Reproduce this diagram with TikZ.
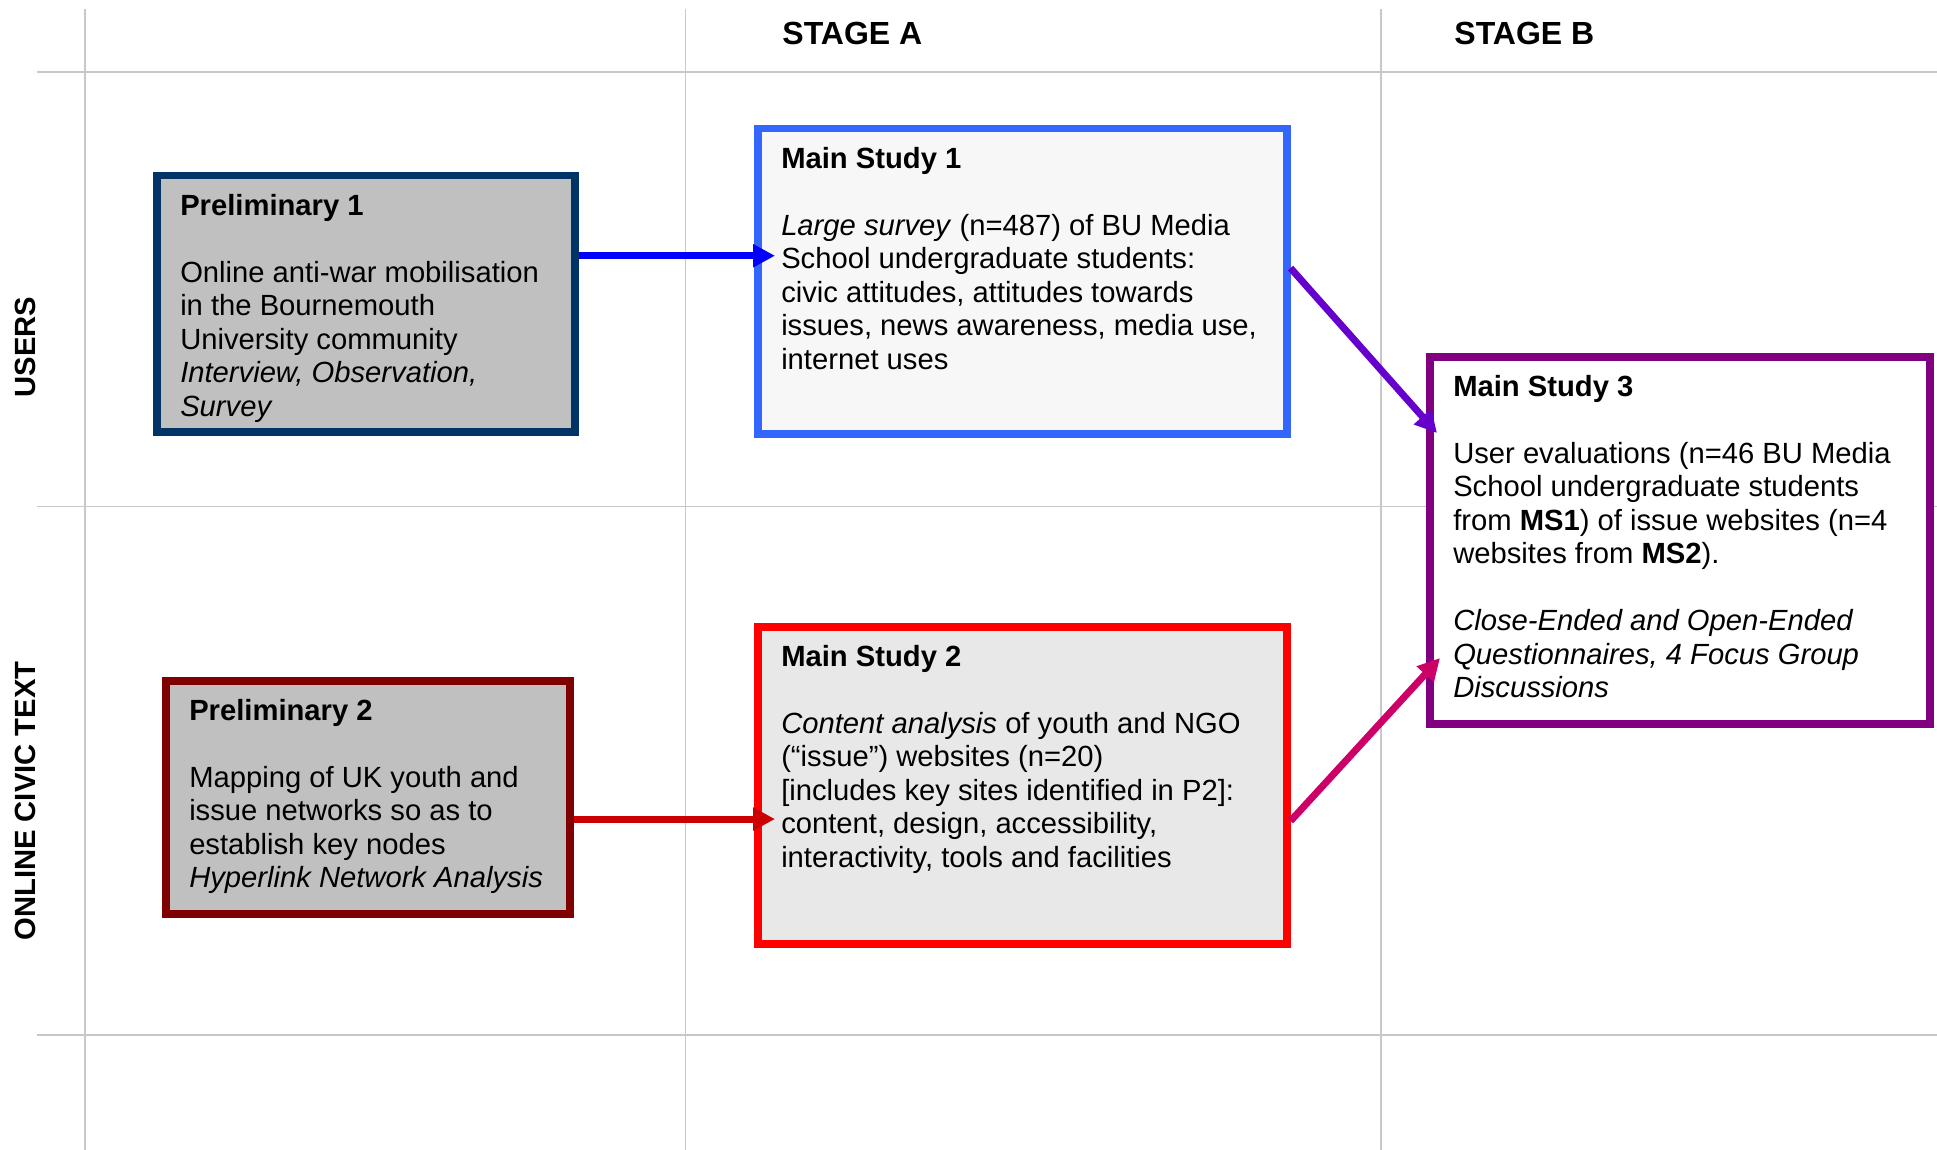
\documentclass[tikz,border=0pt]{standalone}
\usepackage{fontspec}
\setmainfont{Liberation Sans}
\usetikzlibrary{arrows.meta}

\definecolor{gridgray}{HTML}{C8C8C8}
\definecolor{prelimone}{HTML}{003366}
\definecolor{prelimtwo}{HTML}{800000}
\definecolor{prelimfill}{HTML}{C0C0C0}
\definecolor{mainone}{HTML}{3366FF}
\definecolor{mainonefill}{HTML}{F7F7F7}
\definecolor{maintwo}{HTML}{FF0000}
\definecolor{maintwofill}{HTML}{E8E8E8}
\definecolor{mainthree}{HTML}{800080}
\definecolor{arrowone}{HTML}{0000FF}
\definecolor{arrowtwo}{HTML}{CC0000}
\definecolor{arrowthree}{HTML}{6600CC}
\definecolor{arrowfour}{HTML}{CC0066}

\newcommand{\studyfont}{\fontsize{14.6pt}{16.75pt}\selectfont}
\newcommand{\blankrow}{16.75pt}
\newcommand{\boxtext}[3]{\parbox[t][#2][t]{#1}{\begin{tabular}[t]{@{}l@{}}#3\end{tabular}}}

\begin{document}
\begin{tikzpicture}[
  gridline/.style={draw=gridgray, line width=0.85pt},
  studybox/.style={rectangle, line width=3.75pt, anchor=north west, inner xsep=11.75pt, inner ysep=8pt, font=\studyfont},
  headlabel/.style={anchor=base west, inner sep=0pt, font=\fontsize{16pt}{19pt}\selectfont\bfseries},
  sidelabel/.style={rotate=90, inner sep=0pt, font=\fontsize{14.6pt}{17pt}\selectfont\bfseries},
  flow/.style={line width=3.5pt, -{Triangle[length=11pt,width=11pt]}}
]
\useasboundingbox (0,0) rectangle (968.5pt,-575pt);

% grid
\foreach \x in {42.5pt,342.75pt,690.5pt}
  \draw[gridline] (\x,-4.75pt) -- (\x,-575pt);
\foreach \y in {-35.85pt,-253.25pt,-517.5pt}
  \draw[gridline] (18.35pt,\y) -- (968.5pt,\y);

% headings
\node[headlabel] (stagea) at (391pt,-22.5pt) {STAGE A};
\node[headlabel] (stageb) at (727pt,-22.5pt) {STAGE B};
\node[sidelabel] (users) at (12.5pt,-173.5pt) {USERS};
\node[sidelabel] (civic) at (12.5pt,-400.5pt) {ONLINE CIVIC TEXT};

% studies
\node[studybox, draw=prelimone, fill=prelimfill] (prelim1) at (76.5pt,-86pt)
  {\boxtext{185.5pt}{112pt}{\textbf{Preliminary 1}\\[\blankrow]
   Online anti-war mobilisation\\
   in the Bournemouth\\
   University community\\
   \textit{Interview, Observation,}\\
   \textit{Survey}}};
\node[studybox, draw=prelimtwo, fill=prelimfill] (prelim2) at (81pt,-338.5pt)
  {\boxtext{178.5pt}{100.5pt}{\textbf{Preliminary 2}\\[\blankrow]
   Mapping of UK youth and\\
   issue networks so as to\\
   establish key nodes\\
   \textit{Hyperlink Network Analysis}}};
\node[studybox, draw=mainone, fill=mainonefill] (ms1) at (377pt,-62.5pt)
  {\boxtext{241pt}{136.5pt}{\textbf{Main Study 1}\\[\blankrow]
   \textit{Large survey} (n=487) of BU Media\\
   School undergraduate students:\\
   civic attitudes, attitudes towards\\
   issues, news awareness, media use,\\
   internet uses}};
\node[studybox, draw=maintwo, fill=maintwofill] (ms2) at (377pt,-311.5pt)
  {\boxtext{241pt}{142.5pt}{\textbf{Main Study 2}\\[\blankrow]
   \textit{Content analysis} of youth and NGO\\
   (“issue”) websites (n=20)\\
   {[}includes key sites identified in P2{]}:\\
   content, design, accessibility,\\
   interactivity, tools and facilities}};
\node[studybox, draw=mainthree, fill=white] (ms3) at (713pt,-176.5pt)
  {\boxtext{226.5pt}{167.5pt}{\textbf{Main Study 3}\\[\blankrow]
   User evaluations (n=46 BU Media\\
   School undergraduate students\\
   from \textbf{MS1}) of issue websites (n=4\\
   websites from \textbf{MS2}).\\[\blankrow]
   \textit{Close-Ended and Open-Ended}\\
   \textit{Questionnaires, 4 Focus Group}\\
   \textit{Discussions}}};

% arrows
\draw[flow, arrowone, shorten >=-10.5pt] ([yshift=24pt]prelim1.east) -- ([yshift=24pt]prelim1.east -| ms1.west);
\draw[flow, arrowtwo, shorten >=-10.5pt] ([yshift=-10.9pt]prelim2.east) -- ([yshift=-10.9pt]prelim2.east -| ms2.west);
\draw[flow, arrowthree] ([yshift=6.6pt]ms1.east) -- ([xshift=5.5pt,yshift=53.6pt]ms3.west);
\draw[flow, arrowfour] ([yshift=-17.9pt]ms2.east) -- ([xshift=7pt,yshift=-58.9pt]ms3.west);
\end{tikzpicture}
\end{document}
